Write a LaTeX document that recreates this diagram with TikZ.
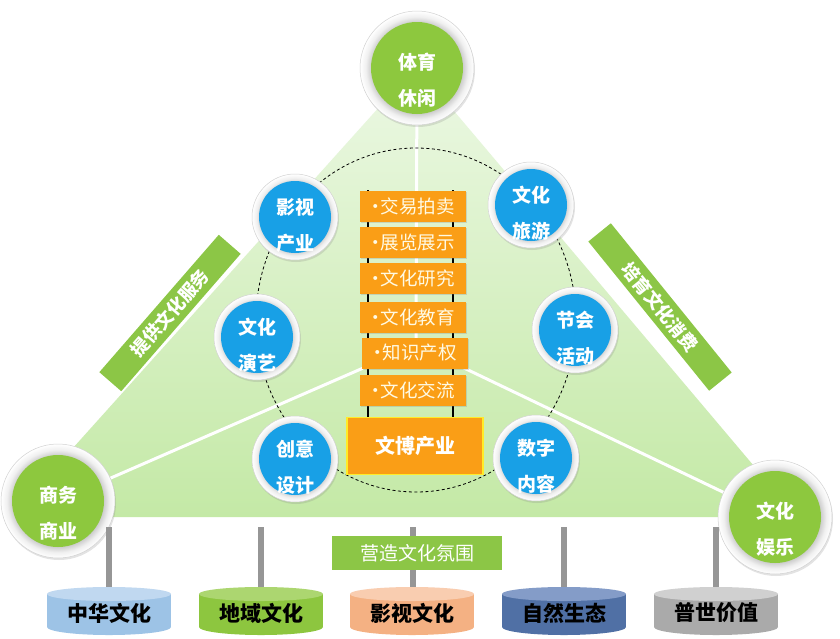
\documentclass[tikz,border=0pt]{standalone}
\usepackage{fontspec}
\setmainfont{Noto Sans CJK SC}
\usetikzlibrary{shadows}
\definecolor{triTop}{RGB}{236,248,228}
\definecolor{triBot}{RGB}{196,233,166}
\definecolor{cBlue}{RGB}{24,160,230}
\definecolor{cGreen}{RGB}{141,200,62}
\definecolor{barGreen}{RGB}{140,198,70}
\definecolor{cOrange}{RGB}{250,158,22}
\definecolor{cYellow}{RGB}{255,235,40}
\definecolor{cCream}{RGB}{255,250,228}
\definecolor{cBar}{RGB}{150,150,150}
\definecolor{cyA}{RGB}{157,195,230}\definecolor{cyAt}{RGB}{192,216,240}
\definecolor{cyB}{RGB}{141,198,63}\definecolor{cyBt}{RGB}{172,214,112}
\definecolor{cyC}{RGB}{244,177,131}\definecolor{cyCt}{RGB}{249,205,176}
\definecolor{cyD}{RGB}{80,112,165}\definecolor{cyDt}{RGB}{132,156,200}
\definecolor{cyE}{RGB}{170,170,170}\definecolor{cyEt}{RGB}{208,208,208}
\pgfdeclareradialshading{ringshade}{\pgfpoint{0bp}{0bp}}{color(0bp)=(gray!45); color(20bp)=(gray!40); color(22.5bp)=(gray!12); color(25bp)=(white); color(50bp)=(white)}
\newcommand\bluecirc[4]{%
  \node[ring=86] (#1R) at (#2,#3) {};
  \node[bdisc] (#1) at (#2,#3) {};
  \node[clabel] (#1T) at (#2,#3+8) {#4};}
\newcommand\greencirc[4]{%
  \node[ring=114] (#1R) at (#2,#3) {};
  \node[gdisc] (#1) at (#2,#3) {};
  \node[clabel] (#1T) at (#2,#3+12) {#4};}
\newcommand\cylin[5]{%
  \fill[#3] (#2,627) ellipse [x radius=62pt, y radius=8pt];
  \fill[#3] (#2-62,594) rectangle (#2+62,627);
  \fill[#4] (#2,594) ellipse [x radius=62pt, y radius=7pt];
  \node[ctext] (#1) at (#2,613) {#5};}
\newcommand\bul{\kern-5pt•\kern-4pt}
\begin{document}
\begin{tikzpicture}[x=1pt,y=-1pt,
  ring/.style={circle,inner sep=0pt,minimum size=#1,shade,shading=ringshade,draw=gray!35,line width=0.5pt,
    drop shadow={opacity=0.22,shadow xshift=1pt,shadow yshift=-2pt}},
  bdisc/.style={circle,inner sep=0pt,minimum size=72,fill=cBlue},
  gdisc/.style={circle,inner sep=0pt,minimum size=92,fill=cGreen},
  clabel/.style={text=white,font=\bfseries\fontsize{19}{36}\selectfont,align=center,inner sep=0pt},
  spoke/.style={draw=white,line width=3pt},
  gbar/.style={fill=barGreen,text=white,font=\bfseries\fontsize{18}{18}\selectfont,inner sep=0pt,minimum height=29},
  ladder/.style={draw=black,line width=2.2pt},
  obox/.style={fill=cOrange,text=cCream,font=\fontsize{18.5}{18.5}\selectfont,minimum width=106,minimum height=31,inner sep=0pt,
    drop shadow={opacity=0.25,shadow xshift=1pt,shadow yshift=-1.5pt}},
  mainbox/.style={fill=cOrange,draw=cYellow,line width=1.5pt,text=white,font=\bfseries\fontsize{20}{20}\selectfont,
    minimum width=136,minimum height=57,inner sep=0pt},
  vbar/.style={draw=cBar,line width=6pt},
  blabel/.style={fill=barGreen,text=white,font=\fontsize{19}{19}\selectfont,minimum width=170,minimum height=34,inner sep=0pt},
  ctext/.style={text=black,font=\bfseries\fontsize{21}{21}\selectfont,inner sep=0pt}]
\useasboundingbox (0,0) rectangle (840,638);
\fill[white] (0,0) rectangle (840,638);
% triangle
\shade[top color=triTop,bottom color=triBot] (416,66) -- (11,517) -- (797,517) -- cycle;
% centre points
\coordinate (hub) at (416,345);
\coordinate (tyc) at (417,68);
\coordinate (swc) at (58,501);
\coordinate (ylc) at (775,517);
\draw[spoke] (hub) -- (tyc);
\draw[spoke] (hub) -- (swc);
\draw[spoke] (hub) -- (ylc);
% dashed ellipse
\draw[dash pattern=on 3pt off 2.5pt,line width=0.8pt] (416,320) ellipse [x radius=160pt, y radius=172pt];
% side bars
\node[gbar,rotate=49,minimum width=182] (lbar) at (170,313) {提供文化服务};
\node[gbar,rotate=-51,minimum width=192] (rbar) at (660,307) {培育文化消费};
% ladder
\coordinate (l1t) at (368,190); \coordinate (l1b) at (368,420);
\coordinate (l2t) at (453,190); \coordinate (l2b) at (453,420);
\draw[ladder] (l1t) -- (l1b);
\draw[ladder] (l2t) -- (l2b);
\node[obox] (b1) at (413,206) {\bul 交易拍卖};
\node[obox] (b2) at (413,242) {\bul 展览展示};
\node[obox] (b3) at (413,278) {\bul 文化研究};
\node[obox] (b4) at (413,317) {\bul 文化教育};
\node[obox] (b5) at (415,353) {\bul 知识产权};
\node[obox] (b6) at (413,390) {\bul 文化交流};
\node[mainbox] (wb) at (415,446) {文博产业};
% circles
\greencirc{ty}{417}{68}{体育\\休闲}
\greencirc{sw}{58}{501}{商务\\商业}
\greencirc{yl}{775}{517}{文化\\娱乐}
\bluecirc{ys}{295}{217}{影视\\产业}
\bluecirc{wl}{531}{205}{文化\\旅游}
\bluecirc{wy}{257}{337}{文化\\演艺}
\bluecirc{jh}{575}{330}{节会\\活动}
\bluecirc{cx}{295}{459}{创意\\设计}
\bluecirc{sz}{536}{458}{数字\\内容}
% bottom bars
\coordinate (g1t) at (109,527); \coordinate (g1b) at (109,592);
\coordinate (g2t) at (261,527); \coordinate (g2b) at (261,592);
\coordinate (g3t) at (413,527); \coordinate (g3b) at (413,592);
\coordinate (g4t) at (564,527); \coordinate (g4b) at (564,592);
\coordinate (g5t) at (716,527); \coordinate (g5b) at (716,592);
\draw[vbar] (g1t) -- (g1b);
\draw[vbar] (g2t) -- (g2b);
\draw[vbar] (g3t) -- (g3b);
\draw[vbar] (g4t) -- (g4b);
\draw[vbar] (g5t) -- (g5b);
\node[blabel] (atm) at (417,553) {营造文化氛围};
% cylinders
\cylin{c1}{109}{cyA}{cyAt}{中华文化}
\cylin{c2}{261}{cyB}{cyBt}{地域文化}
\cylin{c3}{412}{cyC}{cyCt}{影视文化}
\cylin{c4}{564}{cyD}{cyDt}{自然生态}
\cylin{c5}{716}{cyE}{cyEt}{普世价值}
\end{tikzpicture}
\end{document}
